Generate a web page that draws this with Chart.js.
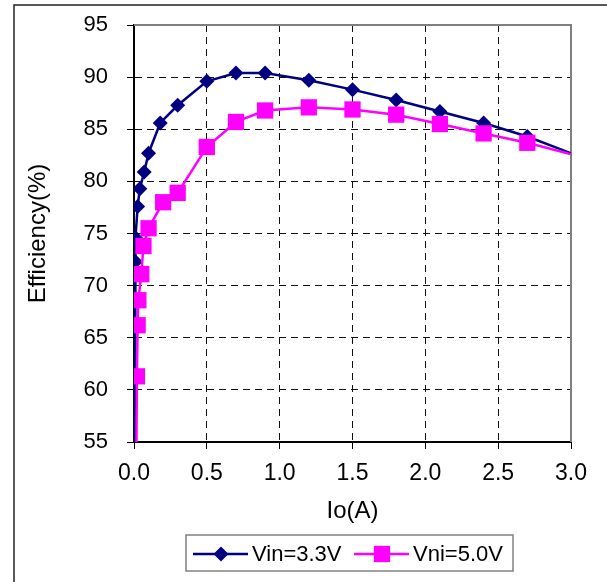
<!DOCTYPE html>
<html>
<head>
<meta charset="utf-8">
<script src="https://cdn.jsdelivr.net/npm/chart.js@4/dist/chart.umd.min.js"></script>
<style>
  html, body { margin: 0; padding: 0; background: #fff; }
  #wrap { width: 607px; height: 582px; position: relative; }
</style>
</head>
<body>
<div id="wrap"><canvas id="graph" width="607" height="582"></canvas></div>
<script>
// Io (A) and efficiency (%)
const ioVin33 = [0.005, 0.01, 0.01, 0.025, 0.04, 0.07, 0.1, 0.18, 0.3, 0.5, 0.7, 0.9, 1.2, 1.5, 1.8, 2.1, 2.4, 2.7, 3.3];
const effVin33 = [40, 72.3, 74.6, 77.6, 79.3, 80.9, 82.7, 85.6, 87.3, 89.6, 90.4, 90.4, 89.7, 88.8, 87.8, 86.7, 85.6, 84.3, 81.1];
const ioVin50 = [0.01, 0.02, 0.025, 0.03, 0.05, 0.065, 0.1, 0.2, 0.3, 0.5, 0.7, 0.9, 1.2, 1.5, 1.8, 2.1, 2.4, 2.7, 3.3];
const effVin50 = [40, 61.3, 66.2, 68.6, 71.1, 73.8, 75.5, 78.0, 78.9, 83.3, 85.7, 86.8, 87.1, 86.9, 86.4, 85.5, 84.6, 83.7, 81.5];
const seriesNames = ['Vin=3.3V', 'Vni=5.0V'];
const xTicks = [0, 0.5, 1.0, 1.5, 2.0, 2.5, 3.0];
const yTicks = [55, 60, 65, 70, 75, 80, 85, 90, 95];

const FONT = '"Liberation Sans", Arial, sans-serif';
const BLUE = '#000080';
const PINK = '#ff00ff';

const toPoints = (xs, ys) => xs.map((x, i) => ({ x, y: ys[i] }));

// gray top/right edge of the plot area
const plotFrame = {
  id: 'plotFrame',
  beforeDatasetsDraw(chart) {
    const { ctx, chartArea: a } = chart;
    ctx.save();
    ctx.strokeStyle = '#808080';
    ctx.lineWidth = 2;
    ctx.beginPath();
    ctx.moveTo(a.left, a.top);
    ctx.lineTo(a.right, a.top);
    ctx.lineTo(a.right, a.bottom);
    ctx.stroke();
    ctx.restore();
  }
};

// outer chart border + boxed legend
const boxLegend = {
  id: 'boxLegend',
  afterDraw(chart) {
    const ctx = chart.ctx;
    ctx.save();
    ctx.strokeStyle = '#222';
    ctx.lineWidth = 1.5;
    ctx.beginPath();
    ctx.moveTo(14, 582);
    ctx.lineTo(14, 5);
    ctx.lineTo(607, 5);
    ctx.stroke();

    ctx.strokeStyle = '#808080';
    ctx.lineWidth = 1.5;
    ctx.strokeRect(186, 535, 327, 36);

    const cy = 554;
    const items = [
      { x: 193, ds: chart.data.datasets[0] },
      { x: 354, ds: chart.data.datasets[1] }
    ];
    ctx.font = '22px ' + FONT;
    ctx.textBaseline = 'middle';
    items.forEach(it => {
      const ds = it.ds;
      ctx.strokeStyle = ds.borderColor;
      ctx.lineWidth = 2.5;
      ctx.beginPath();
      ctx.moveTo(it.x, cy);
      ctx.lineTo(it.x + 55, cy);
      ctx.stroke();
      const mx = it.x + 28;
      ctx.fillStyle = ds.pointBackgroundColor;
      ctx.beginPath();
      if (ds.pointStyle === 'rectRot') {
        const r = ds.pointRadius;
        ctx.moveTo(mx - r, cy);
        ctx.lineTo(mx, cy - r);
        ctx.lineTo(mx + r, cy);
        ctx.lineTo(mx, cy + r);
        ctx.closePath();
      } else {
        const s = ds.pointRadius * Math.SQRT1_2;
        ctx.rect(mx - s, cy - s, 2 * s, 2 * s);
      }
      ctx.fill();
      ctx.fillStyle = '#000';
      ctx.textAlign = 'left';
      ctx.fillText(ds.label, it.x + 59, cy + 1);
    });
    ctx.restore();
  }
};

new Chart(document.getElementById('graph'), {
  type: 'line',
  data: {
    datasets: [
      {
        label: seriesNames[0],
        data: toPoints(ioVin33, effVin33),
        borderColor: BLUE,
        backgroundColor: BLUE,
        pointBackgroundColor: BLUE,
        pointBorderColor: BLUE,
        pointStyle: 'rectRot',
        pointRadius: 7.5,
        pointBorderWidth: 0,
        borderWidth: 2.5,
        tension: 0,
        order: 1
      },
      {
        label: seriesNames[1],
        data: toPoints(ioVin50, effVin50),
        borderColor: PINK,
        backgroundColor: PINK,
        pointBackgroundColor: PINK,
        pointBorderColor: PINK,
        pointStyle: 'rect',
        pointRadius: 11.5,
        pointBorderWidth: 0,
        borderWidth: 2.5,
        tension: 0,
        order: 0
      }
    ]
  },
  options: {
    responsive: false,
    animation: false,
    events: [],
    layout: { padding: { left: 0, top: 25, right: 36, bottom: 56 } },
    plugins: { legend: { display: false }, tooltip: { enabled: false } },
    scales: {
      x: {
        type: 'linear',
        min: 0,
        max: 3.0,
        afterBuildTicks: s => { s.ticks = xTicks.map(v => ({ value: v })); },
        afterFit: s => {
          s.height = 582 - 56 - 442;
          s.paddingLeft = 0;
          s.paddingRight = 0;
        },
        ticks: {
          color: '#000',
          font: { family: FONT, size: 23 },
          padding: 11,
          maxRotation: 0,
          callback: v => Number(v).toFixed(1)
        },
        grid: {
          color: '#111',
          lineWidth: 1,
          tickLength: 7,
          tickColor: '#000',
          tickBorderDash: []
        },
        border: { color: '#000', width: 2, dash: [7, 5] },
        title: {
          display: true,
          text: 'Io(A)',
          color: '#000',
          font: { family: FONT, size: 24 },
          padding: { top: 0, bottom: 0 }
        }
      },
      y: {
        min: 55,
        max: 95,
        afterBuildTicks: s => { s.ticks = yTicks.map(v => ({ value: v })); },
        afterFit: s => {
          s.width = 134;
          s.paddingTop = 0;
          s.paddingBottom = 0;
        },
        ticks: {
          color: '#000',
          font: { family: FONT, size: 22 },
          padding: 19,
          callback: v => String(v)
        },
        grid: {
          color: '#111',
          lineWidth: 1,
          tickLength: 7,
          tickColor: '#000',
          tickBorderDash: []
        },
        border: { color: '#000', width: 2, dash: [7, 5] },
        title: {
          display: true,
          text: 'Efficiency(%)',
          color: '#000',
          font: { family: FONT, size: 24 },
          padding: { top: 24, bottom: 0 }
        }
      }
    }
  },
  plugins: [plotFrame, boxLegend]
});
</script>
</body>
</html>
